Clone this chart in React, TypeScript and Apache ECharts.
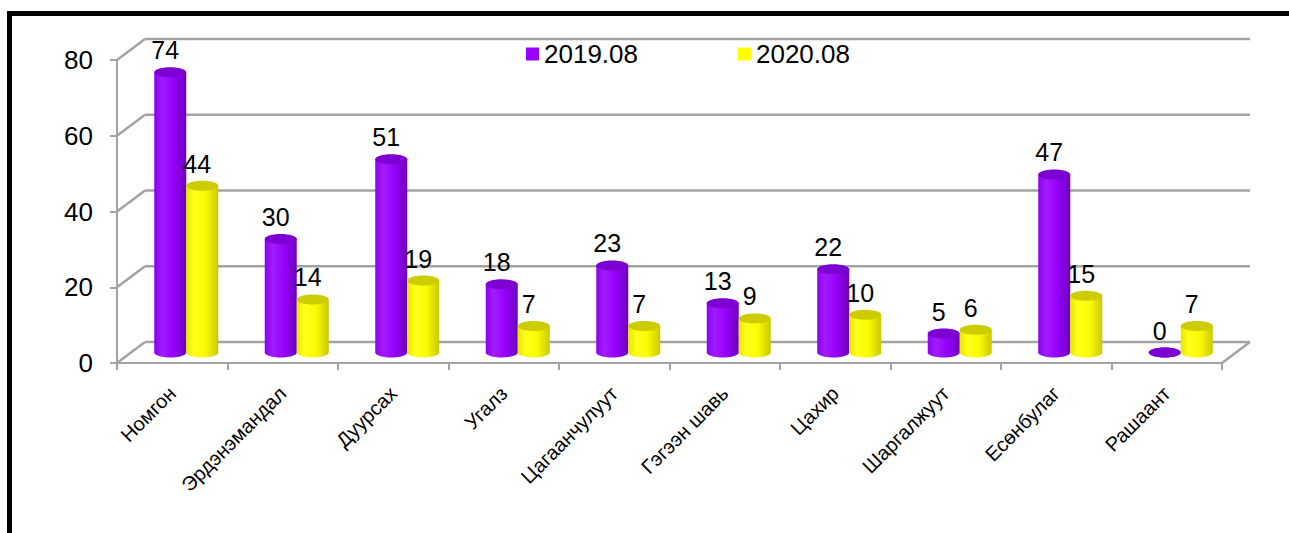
import React, { useEffect, useRef } from "react";
import * as echarts from "echarts";

const categories = [
  "Номгон",
  "Эрдэнэмандал",
  "Дуурсах",
  "Угалз",
  "Цагаанчулуут",
  "Гэгээн шавь",
  "Цахир",
  "Шаргалжуут",
  "Есөнбулаг",
  "Рашаант",
];
const values2019 = [74, 30, 51, 18, 23, 13, 22, 5, 47, 0];
const values2020 = [44, 14, 19, 7, 7, 9, 10, 6, 15, 7];
const seriesNames = ["2019.08", "2020.08"];
const yTicks = [0, 20, 40, 60, 80];

const DX = 28;
const DY = -21;
const BAR_W = 32;
const RY = 5;
const FONT = "'Liberation Sans', Arial, sans-serif";
const GRID_LINE = "#a3a3a3";

const purple = {
  body: new echarts.graphic.LinearGradient(0, 0, 1, 0, [
    { offset: 0, color: "#8c00ee" },
    { offset: 0.25, color: "#a21cff" },
    { offset: 0.6, color: "#9700fb" },
    { offset: 1, color: "#6e00bc" },
  ]),
  top: "#7c00d2",
  legend: "#9900ff",
};
const yellow = {
  body: new echarts.graphic.LinearGradient(0, 0, 1, 0, [
    { offset: 0, color: "#e6e600" },
    { offset: 0.25, color: "#ffff1a" },
    { offset: 0.6, color: "#fbfb00" },
    { offset: 1, color: "#c9c900" },
  ]),
  top: "#cccc00",
  legend: "#ffff00",
};

function cylinderRenderer(shift: number, pal: any) {
  return (params: any, api: any) => {
    const i = api.value(0);
    const v = api.value(1);
    const top = api.coord([i, v]);
    const base = api.coord([i, 0]);
    const cx = top[0] + DX / 2 + shift;
    const yTop = top[1] + DY / 2;
    const yBot = base[1] + DY / 2;
    const x0 = cx - BAR_W / 2;
    return {
      type: "group",
      children: [
        {
          type: "ellipse",
          shape: { cx, cy: yBot, rx: BAR_W / 2, ry: RY },
          style: { fill: pal.body },
        },
        {
          type: "rect",
          shape: { x: x0, y: yTop, width: BAR_W, height: Math.max(0, yBot - yTop) },
          style: { fill: pal.body },
        },
        {
          type: "ellipse",
          shape: { cx, cy: yTop, rx: BAR_W / 2, ry: RY },
          style: { fill: pal.top },
        },
        {
          type: "text",
          x: cx - 5,
          y: yTop - 22,
          style: {
            text: String(v),
            fontSize: 25,
            fontFamily: FONT,
            fill: "#000",
            align: "center",
            verticalAlign: "middle",
          },
        },
      ],
    };
  };
}

export default function App() {
  const ref = useRef<HTMLDivElement>(null);
  useEffect(() => {
    if (!ref.current) return;
    const chart = echarts.init(ref.current, undefined, { renderer: "svg" });
    const option: any = {
      animation: false,
      backgroundColor: "#fff",
      textStyle: { fontFamily: FONT },
      graphic: [
        {
          type: "rect",
          shape: { x: 9.5, y: 13.5, width: 1400, height: 700 },
          style: { fill: "none", stroke: "#000", lineWidth: 5 },
          z: 100,
        },
      ],
      legend: {
        data: seriesNames.map((n, k) => ({
          name: n,
          itemStyle: { color: k === 0 ? purple.legend : yellow.legend },
        })),
        left: 521,
        top: 36,
        icon: "rect",
        itemWidth: 13,
        itemHeight: 13,
        itemGap: 100,
        textStyle: { fontSize: 26, color: "#000", fontFamily: FONT },
      },
      grid: { left: 117, top: 60, width: 1105, height: 303 },
      xAxis: {
        type: "category",
        data: categories,
        boundaryGap: true,
        axisLine: { show: true, lineStyle: { color: GRID_LINE, width: 2 } },
        axisTick: { show: true, interval: 0, length: 7, lineStyle: { color: GRID_LINE, width: 2 } },
        axisLabel: {
          interval: 0,
          rotate: 45,
          fontSize: 20,
          color: "#000",
          margin: 27,
          fontFamily: FONT,
        },
        splitLine: { show: false },
      },
      yAxis: {
        type: "value",
        min: 0,
        max: 80,
        interval: 20,
        axisLine: { show: true, lineStyle: { color: GRID_LINE, width: 2 } },
        axisTick: { show: true, length: 7, lineStyle: { color: GRID_LINE, width: 2 } },
        axisLabel: { fontSize: 26, color: "#000", margin: 24, fontFamily: FONT },
        splitLine: { show: false },
      },
      series: [
        {
          type: "custom",
          name: "walls",
          silent: true,
          clip: false,
          z: 1,
          data: yTicks.map((v) => [0, v]),
          encode: { x: 0, y: 1 },
          renderItem: (params: any, api: any) => {
            const cs = params.coordSys;
            const v = api.value(1);
            const y = api.coord([0, v])[1];
            const style = { stroke: GRID_LINE, lineWidth: 2.5, fill: "none" };
            const children: any[] = [
              {
                type: "line",
                shape: { x1: cs.x, y1: y, x2: cs.x + DX, y2: y + DY },
                style,
              },
              {
                type: "line",
                shape: { x1: cs.x + DX, y1: y + DY, x2: cs.x + cs.width + DX, y2: y + DY },
                style,
              },
            ];
            if (v === 0) {
              children.push({
                type: "line",
                shape: { x1: cs.x + cs.width, y1: y, x2: cs.x + cs.width + DX, y2: y + DY },
                style,
              });
            }
            return { type: "group", children };
          },
        },
        {
          type: "custom",
          name: seriesNames[0],
          clip: false,
          z: 3,
          itemStyle: { color: purple.legend },
          data: values2019.map((v, i) => [i, v]),
          encode: { x: 0, y: 1 },
          renderItem: cylinderRenderer(-BAR_W / 2, purple),
        },
        {
          type: "custom",
          name: seriesNames[1],
          clip: false,
          z: 3,
          itemStyle: { color: yellow.legend },
          data: values2020.map((v, i) => [i, v]),
          encode: { x: 0, y: 1 },
          renderItem: cylinderRenderer(BAR_W / 2, yellow),
        },
      ],
    };
    chart.setOption(option);
    return () => chart.dispose();
  }, []);
  return (
    <div
      ref={ref}
      style={{ position: "fixed", left: 0, top: 0, width: 1289, height: 533 }}
    />
  );
}
